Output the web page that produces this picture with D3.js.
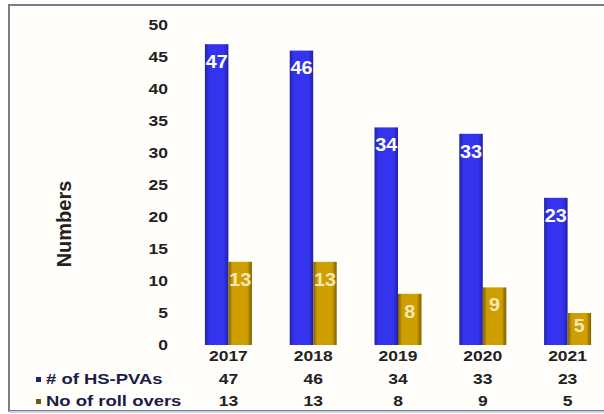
<!DOCTYPE html>
<html>
<head>
<meta charset="utf-8">
<script src="https://cdn.jsdelivr.net/npm/d3@7"></script>
<style>
  body { margin: 0; background: #fff; }
  text { font-family: "Liberation Sans", Arial, sans-serif; font-weight: bold; }
</style>
</head>
<body>
<script>
const years = ["2017", "2018", "2019", "2020", "2021"];
const hsPvas = [47, 46, 34, 33, 23];
const rollOvers = [13, 13, 8, 9, 5];
const seriesNames = ["# of HS-PVAs", "No of roll overs"];
const yTicks = [0, 5, 10, 15, 20, 25, 30, 35, 40, 45, 50];

const width = 604, height = 414;
const wide = 1.25; // the original text is drawn a bit stretched sideways

const svg = d3.select("body").append("svg")
    .attr("width", width)
    .attr("height", height);

const defs = svg.append("defs");
function barGradient(id, edge, mid) {
  const g = defs.append("linearGradient").attr("id", id)
      .attr("x1", "0%").attr("x2", "100%").attr("y1", "0%").attr("y2", "0%");
  g.append("stop").attr("offset", "0%").attr("stop-color", edge);
  g.append("stop").attr("offset", "18%").attr("stop-color", mid);
  g.append("stop").attr("offset", "80%").attr("stop-color", mid);
  g.append("stop").attr("offset", "100%").attr("stop-color", edge);
}
barGradient("gBlue", "#2020a8", "#3434ee");
barGradient("gGold", "#7a6000", "#cf9f00");

// frame
svg.append("rect").attr("x", 0).attr("y", 0).attr("width", width).attr("height", height).attr("fill", "#fff");
svg.append("rect").attr("x", 9).attr("y", 5).attr("width", width).attr("height", 406)
    .attr("fill", "#fffefa").attr("stroke", "#7c7c84").attr("stroke-width", 2);
svg.append("line").attr("x1", 9).attr("x2", width).attr("y1", 412).attr("y2", 412)
    .attr("stroke", "#c8d4ea").attr("stroke-width", 2);

const x0 = d3.scaleBand().domain(years).range([186, 610]).paddingInner(0.446).paddingOuter(0.223);
const x1 = d3.scaleBand().domain(seriesNames).range([0, x0.bandwidth()]);
const y = d3.scaleLinear().domain([0, 50]).range([345, 25]);

// y axis
const yAxis = svg.append("g")
    .attr("transform", "translate(168,0)")
    .call(d3.axisLeft(y).tickValues(yTicks).tickSize(0).tickPadding(0));
yAxis.select(".domain").remove();
yAxis.selectAll("text")
    .attr("fill", "#222")
    .attr("transform", "scale(" + wide + ",1)")
    .style("font-size", "14px")
    .style("font-family", "Liberation Sans, Arial, sans-serif")
    .style("font-weight", "bold");

svg.append("text")
    .attr("transform", "translate(66,224) rotate(-90)")
    .attr("text-anchor", "middle")
    .attr("dominant-baseline", "middle")
    .attr("fill", "#222")
    .style("font-size", "20px")
    .text("Numbers");

const series = [
  { name: seriesNames[0], values: hsPvas, fill: "url(#gBlue)", label: "#ffffff", key: "#202070" },
  { name: seriesNames[1], values: rollOvers, fill: "url(#gGold)", label: "#f6e7b4", key: "#6b5a10" }
];

const groups = svg.append("g").selectAll("g")
    .data(years)
    .enter().append("g")
    .attr("transform", d => "translate(" + x0(d) + ",0)");

series.forEach(s => {
  groups.append("rect")
      .attr("x", x1(s.name))
      .attr("y", (d, i) => y(s.values[i]))
      .attr("width", x1.bandwidth())
      .attr("height", (d, i) => y(0) - y(s.values[i]))
      .attr("fill", s.fill);

  groups.append("text")
      .attr("transform", (d, i) => {
        const top = y(s.values[i]);
        const ty = Math.min(top + 19, (top + y(0)) / 2 - 2);
        return "translate(" + (x1(s.name) + x1.bandwidth() / 2) + "," + ty + ") scale(1.1,1)";
      })
      .attr("text-anchor", "middle")
      .attr("dominant-baseline", "middle")
      .attr("fill", s.label)
      .style("font-size", "18px")
      .text((d, i) => s.values[i]);
});

// data table under the axis
groups.append("text")
    .attr("transform", "translate(" + (x0.bandwidth() / 2) + ",357) scale(" + wide + ",1)")
    .attr("text-anchor", "middle")
    .attr("dominant-baseline", "middle")
    .attr("fill", "#222")
    .style("font-size", "14px")
    .text(d => d);

series.forEach((s, k) => {
  const rowY = 380 + k * 22;
  groups.append("text")
      .attr("transform", "translate(" + (x0.bandwidth() / 2) + "," + rowY + ") scale(" + wide + ",1)")
      .attr("text-anchor", "middle")
      .attr("dominant-baseline", "middle")
      .attr("fill", "#222")
      .style("font-size", "14px")
      .text((d, i) => s.values[i]);

  svg.append("rect")
      .attr("x", 36).attr("y", rowY - 3)
      .attr("width", 5).attr("height", 5)
      .attr("fill", s.key);
  svg.append("text")
      .attr("transform", "translate(46," + rowY + ") scale(1.32,1)")
      .attr("dominant-baseline", "middle")
      .attr("fill", "#1c1c48")
      .style("font-size", "14px")
      .text(s.name);
});
</script>
</body>
</html>
